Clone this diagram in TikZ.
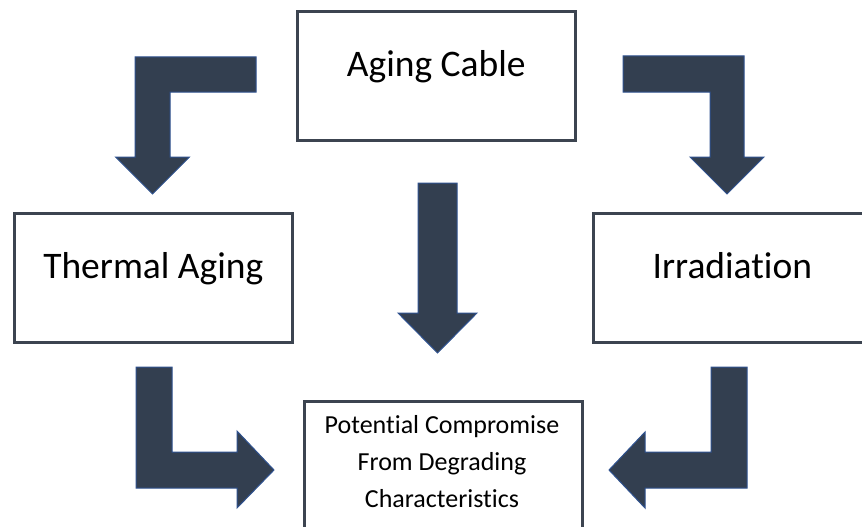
\documentclass[tikz,border=0pt]{standalone}
\usepackage{fontspec}
\setmainfont[Ligatures={NoCommon}]{Carlito}
\begin{document}
\begin{tikzpicture}[x=1pt,y=-1pt,
  box/.style={draw=boxline, line width=2.6pt, fill=white, minimum width=278pt, minimum height=129pt, inner sep=0pt, anchor=north west},
  bigtext/.style={font=\fontsize{37.5}{44}\selectfont, text=black, inner sep=0pt, anchor=base},
  smalltext/.style={font=\fontsize{26}{37}\selectfont, text=black, inner sep=0pt, align=center},
  blockarrow/.style={fill=arrowfill, draw=arrowline, line width=1pt, line join=miter}]
\definecolor{boxline}{HTML}{3C4450}
\definecolor{arrowfill}{HTML}{333F50}
\definecolor{arrowline}{HTML}{2F528F}
\useasboundingbox (0,0) rectangle (862,527);
\clip (0,0) rectangle (862,527);
\fill[white] (0,0) rectangle (862,527);

% boxes
\node[box] (cable) at (296,10) {};
\node[box] (thermal) at (13,212) {};
\node[box] (irrad) at (592,212) {};
\node[box] (comp) at (303,400) {};

\node[bigtext] (tcable) at ([yshift=-1pt]cable.center) {Aging Cable};
\node[bigtext] (tthermal) at ([yshift=-1pt]thermal.center) {Thermal Aging};
\node[bigtext] (tirrad) at ([yshift=-1pt]irrad.center) {Irradiation};
\node[smalltext, anchor=north] (tcomp) at (442,415) {Potential Compromise\\From Degrading\\Characteristics};

% block arrows
\draw[blockarrow] (256,57) -- (256,92) -- (170,92) -- (170,157) -- (189.5,157) -- (152.5,194) -- (115.5,157) -- (135,157) -- (135,57) -- cycle;
\draw[blockarrow] (623,56) -- (744,56) -- (744,157) -- (764,157) -- (727,194) -- (690,157) -- (710,157) -- (710,92) -- (623,92) -- cycle;
\draw[blockarrow] (418,183) -- (457,183) -- (457,313) -- (477,313) -- (437.5,353) -- (398,313) -- (418,313) -- cycle;
\draw[blockarrow] (136,367) -- (172,367) -- (172,452) -- (237,452) -- (237,431) -- (274,470) -- (237,508) -- (237,488) -- (136,488) -- cycle;
\draw[blockarrow] (711,367) -- (747,367) -- (747,488) -- (645,488) -- (645,508) -- (609,470) -- (645,432) -- (645,452) -- (711,452) -- cycle;
\end{tikzpicture}
\end{document}
